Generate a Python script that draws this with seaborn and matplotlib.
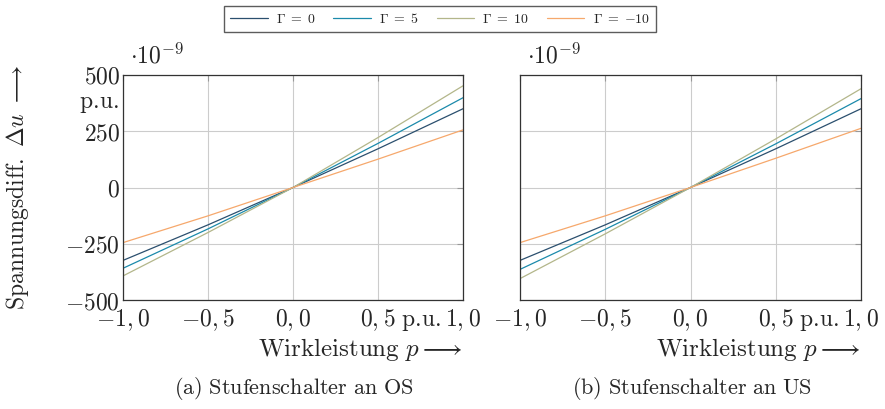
import numpy as np
import pandas as pd
import matplotlib
matplotlib.use("Agg")
import matplotlib.pyplot as plt
import seaborn as sns

# ---- data (values in 1e-9 p.u.) ----
p = [-1.0, -0.5, 0.0, 0.5, 1.0]
gammas = [r"$\Gamma\;=\;0$", r"$\Gamma\;=\;5$", r"$\Gamma\;=\;10$", r"$\Gamma\;=\;{-10}$"]

os_g0 = [-324, -166, 0, 172, 350]
os_g5 = [-359, -184, 0, 196, 399]
os_g10 = [-393, -200, 0, 222, 452]
os_gm10 = [-245, -126, 0, 126, 256]

us_g0 = [-324, -166, 0, 172, 350]
us_g5 = [-364, -186, 0, 194, 395]
us_g10 = [-405, -206, 0, 216, 439]
us_gm10 = [-245, -126, 0, 130, 263]

colors = ["#2b4f6e", "#1b8aab", "#b3b68a", "#f6a86c"]

x_ticks = [-1.0, -0.5, 0.0, 0.5, 1.0]
x_ticklabels = [r"$-1,\!\:0$", r"$-0,\!\:5$", r"$0,\!\:0$", r"$0,\!\:5$", r"$1,\!\:0$"]
y_ticks = [-500, -250, 0, 250, 500]
y_ticklabels = [r"$-500$", r"$-250$", r"$0$", r"$250$", r"$500$"]

FS = 17


def to_long(series):
    rows = []
    for g, vals in zip(gammas, series):
        for x, v in zip(p, vals):
            rows.append({"p": x, "du": v, "gamma": g})
    return pd.DataFrame(rows)


df_os = to_long([os_g0, os_g5, os_g10, os_gm10])
df_us = to_long([us_g0, us_g5, us_g10, us_gm10])

sns.set_style("white")
plt.rcParams["mathtext.fontset"] = "cm"
plt.rcParams["font.family"] = ["DejaVu Serif"]

fig = plt.figure(figsize=(8.85, 4.09), dpi=100)
ax_a = fig.add_axes([123 / 885, 1 - 300 / 409, 340 / 885, 225 / 409])
ax_b = fig.add_axes([520 / 885, 1 - 300 / 409, 341 / 885, 225 / 409])

for ax, df in [(ax_a, df_os), (ax_b, df_us)]:
    sns.lineplot(data=df, x="p", y="du", hue="gamma", palette=colors,
                 hue_order=gammas, ax=ax, linewidth=0.9, legend=False)
    ax.set_xlim(-1, 1)
    ax.set_ylim(-500, 500)
    ax.set_xticks(x_ticks)
    ax.set_yticks(y_ticks)
    ax.grid(True, color="#cccccc", linewidth=0.8)
    ax.set_axisbelow(True)
    ax.tick_params(direction="in", length=4, color="#999999", labelsize=FS,
                   pad=2, top=True, right=True)
    ax.tick_params(axis="x", pad=5)
    for s in ax.spines.values():
        s.set_color("#333333")
        s.set_linewidth(0.9)
    ax.set_xticklabels(x_ticklabels)
    ax.set_xlabel(r"$\mathrm{Wirkleistung}\ p \longrightarrow$", fontsize=FS + 1)
    ax.xaxis.set_label_coords(1.0, -0.16)
    ax.xaxis.label.set_horizontalalignment("right")
    ax.set_ylabel("")
    ax.text(0.02, 1.03, r"$\cdot 10^{-9}$", transform=ax.transAxes,
            fontsize=FS, ha="left", va="bottom")
    # unit next to the 0,5 tick label
    ax.annotate(r"$\mathrm{p.\!u.}$", xy=(0.5, 0), xycoords=("data", "axes fraction"),
                xytext=(16.5, -7.5), textcoords="offset points",
                fontsize=FS, ha="left", va="top")

ax_a.set_yticklabels(y_ticklabels)
ax_b.set_yticklabels([])
ax_a.annotate(r"$\mathrm{p.\!u.}$", xy=(0, 372), xycoords=("axes fraction", "data"),
              xytext=(-2.5, 0), textcoords="offset points",
              fontsize=FS, ha="right", va="center")
ax_a.set_ylabel(r"$\mathrm{Spannungsdiff.}\ \Delta u\ \longrightarrow$",
                fontsize=FS)
ax_a.yaxis.set_label_coords(-0.27, 0.5)

fig.text(294 / 885, 1 - 389 / 409, r"$\mathrm{(a)\ Stufenschalter\ an\ OS}$",
         fontsize=16, ha="center", va="center")
fig.text(692 / 885, 1 - 389 / 409, r"$\mathrm{(b)\ Stufenschalter\ an\ US}$",
         fontsize=16, ha="center", va="center")

handles = [plt.Line2D([], [], color=c, linewidth=0.9) for c in colors]
fig.legend(handles, gammas, loc="center", bbox_to_anchor=(440 / 885, 1 - 19 / 409),
           ncol=4, frameon=True, fontsize=10, handlelength=2.7,
           columnspacing=1.3, edgecolor="#333333", fancybox=False,
           borderpad=0.45, handletextpad=0.6)

fig.savefig("out.png", dpi=100)
